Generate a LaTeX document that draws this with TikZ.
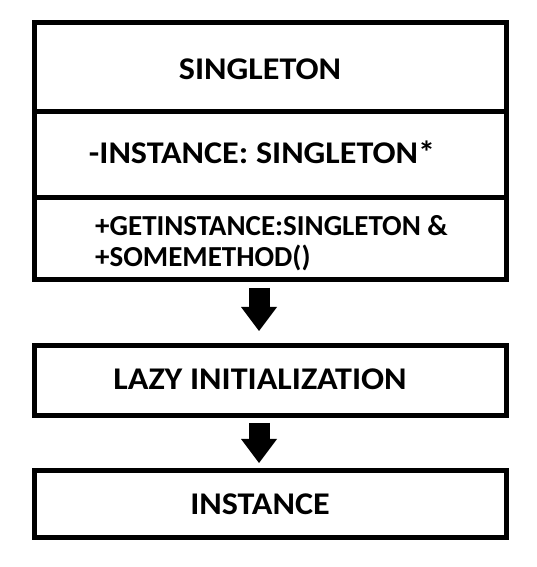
\documentclass[tikz,border=0pt]{standalone}
\usepackage{fontspec}
\setmainfont{Carlito}
\newfontfamily\widefont{Carlito}[FakeStretch=1.08]
\usetikzlibrary{arrows.meta,positioning}

\begin{document}
\begin{tikzpicture}[
  x=1pt, y=1pt,
  node distance=0pt,
  box/.style={draw, line width=5pt, outer sep=0pt, inner sep=0pt, minimum width=472pt, minimum height=#1},
  lbl/.style={font=\widefont\bfseries\fontsize{#1}{31}\selectfont, inner sep=0pt, anchor=base},
  arr/.style={line width=21pt, -{Triangle[width=36pt,length=24pt,line width=0pt]}},
]
  \useasboundingbox (0,0) rectangle (536,567);
  % class box
  \node[box=89pt] (title) at (270,499.5) {};
  \node[box=86pt, below=of title] (attr) {};
  \node[box=82pt, below=of attr] (meth) {};
  % steps
  \node[box=70.5pt, below=65.5pt of meth] (lazy) {};
  \node[box=67.5pt, below=54.5pt of lazy] (inst) {};

  \node[lbl=31.6] (title-t) at ([xshift=-10pt,yshift=-12.5pt]title.center) {SINGLETON};
  \node[lbl=31.6] (attr-t) at ([xshift=-8pt,yshift=-8.5pt]attr.center) {-INSTANCE: SINGLETON*};
  \node[lbl=29, font=\rmfamily\bfseries\fontsize{29}{31}\selectfont, anchor=base west, align=left] (meth-t) at ([xshift=61pt,yshift=-28pt]meth.west) {+GETINSTANCE:SINGLETON \&\\+SOMEMETHOD()};
  \node[lbl=31.6] (lazy-t) at ([xshift=-10pt,yshift=-9.25pt]lazy.center) {LAZY INITIALIZATION};
  \node[lbl=31.6] (inst-t) at ([xshift=-10pt,yshift=-10.75pt]inst.center) {INSTANCE};

  \draw[arr, shorten <=8pt, shorten >=14.5pt] ([xshift=-11pt]meth.south) -- ([xshift=-11pt]lazy.north);
  \draw[arr, shorten <=7pt, shorten >=7.5pt] ([xshift=-11pt]lazy.south) -- ([xshift=-11pt]inst.north);
\end{tikzpicture}
\end{document}
